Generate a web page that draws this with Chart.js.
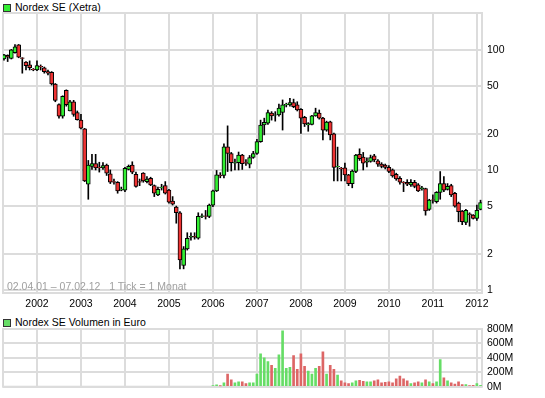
<!DOCTYPE html>
<html>
<head>
<meta charset="utf-8">
<script src="https://cdn.jsdelivr.net/npm/chart.js@4.4.1/dist/chart.umd.min.js"></script>
<style>
    body { margin: 0; background: #fff; }
    .wrap { position: relative; width: 545px; height: 398px; background: #fff; overflow: hidden; }
    .wrap canvas { position: absolute; left: 0; }
    .title { position: absolute; left: 3px; font: 10.5px "Liberation Sans", Arial, sans-serif; line-height: 13px; color: #000; white-space: nowrap; }
    .title span.box { display: inline-block; width: 6px; height: 6px; border: 1px solid #333; margin-right: 4px; vertical-align: -1px; }
    .note { position: absolute; left: 7px; top: 280px; font: 10.5px "Liberation Sans", Arial, sans-serif; line-height: 13px; color: #a0a0a0; white-space: nowrap; }
</style>
</head>
<body>
<div class="wrap">
    <div class="title" style="top:1px"><span class="box" style="background:#33ee33"></span>Nordex SE (Xetra)</div>
    <canvas id="price_chart" width="545" height="315" style="top:0"></canvas>
    <div class="note">02.04.01 &ndash; 07.02.12 &nbsp; 1 Tick = 1 Monat</div>
    <div class="title" style="top:316px"><span class="box" style="background:#66dd66"></span>Nordex SE Volumen in Euro</div>
    <canvas id="volume_chart" width="545" height="82" style="top:316px"></canvas>
</div>
<script>
// monthly candles, first one = April 2001, last one = February 2012
const opens = [84, 90, 85, 95, 110, 86, 79, 75, 69, 68, 73, 71, 66, 65, 52, 35, 28, 46, 31, 37, 30, 26, 22,
    7.6, 10.7, 11.3, 10.5, 10.4, 11, 9.3, 8, 7.9, 6.8, 6.8, 10.1, 11, 9.2, 8, 9.4, 8.0, 8.5, 7.4, 6.2, 7.1, 7.4,
    6.8, 5.5, 4.9, 4.4, 1.6, 2.2, 2.75, 2.8, 2.7, 4.1, 4.15, 4.1, 5.1, 6.7, 9.0, 9.0, 15.6, 13.7, 11.4, 11.5,
    13.3, 11.5, 11.2, 12.7, 13.7, 17.2, 23.7, 24.5, 29.7, 28.6, 28.7, 30.1, 34.8, 34.8, 36.5, 34.8, 32, 27.4,
    23.7, 24, 28.2, 29.7, 27, 21.5, 25.2, 20, 10.6, 10.3, 10.4, 9.1, 7.7, 9.7, 13.5, 12.8, 11.6, 11.8, 13.1,
    11.9, 11.2, 11, 10.5, 10, 9.2, 8.5, 7.9, 7.9, 7.5, 7.9, 7.5, 7.0, 7.0, 4.7, 5.65, 5.45, 6.5, 7.7, 6.9, 7.4,
    6.4, 5.3, 4.55, 3.65, 4.3, 4.2, 3.95, 4.7];
const highs = [92, 91, 101, 111, 111, 86.2, 80, 81, 70, 81, 75, 72, 68, 66, 52.5, 35.5, 41.5, 46.5, 38, 38, 31, 29, 22.2,
    12, 13.5, 13.5, 11.6, 11.5, 11.2, 10, 8.4, 8, 7.2, 10.5, 11, 11.7, 9.6, 8.4, 9.5, 8.8, 8.7, 7.5, 7.2, 7.6, 8.0,
    6.9, 6.0, 5.0, 4.5, 2.3, 3.0, 3.0, 3.0, 4.4, 4.3, 4.6, 5.2, 6.8, 9.9, 9.5, 16.5, 23.3, 14, 12.3, 14.1,
    13.5, 12.2, 13.2, 14.3, 18, 26, 27, 31.6, 30.6, 30.6, 35.3, 38.3, 36, 39.6, 38.9, 37, 32.5, 28,
    24.8, 28.5, 32.7, 31.6, 27.5, 25.5, 25.5, 20.3, 15.5, 10.5, 11.4, 9.2, 10, 13.5, 15, 14, 12.6, 13.3, 13.5,
    12.2, 11.5, 11.2, 10.9, 10.2, 9.4, 8.8, 8.0, 8.3, 8.3, 8.2, 7.7, 7.3, 7.05, 5.7, 6.2, 6.6, 9.7, 8.8, 7.7, 7.6,
    6.5, 5.4, 4.6, 4.7, 4.4, 4.25, 5.1, 5.6];
const lows = [82, 80, 84, 94, 86, 64, 68, 68, 67, 67, 68, 64, 62, 51, 37, 27, 27, 34, 31, 28, 26, 22, 8,
    5.7, 10.1, 10, 9.6, 10.1, 9, 7.7, 7.6, 6.4, 6.7, 6.6, 10, 9.3, 7.2, 7.4, 7.9, 7.8, 7.4, 6.0, 6.1, 6.8, 6.3,
    5.3, 5.1, 3.6, 1.5, 1.5, 2.15, 2.6, 2.65, 2.65, 4.0, 3.9, 4.0, 4.95, 6.6, 8.6, 8.6, 9.7, 9.8, 10, 10,
    10.1, 10.9, 10.4, 12.5, 13.5, 17, 19.6, 24, 26, 25.5, 28, 21.5, 33.5, 34, 33, 31, 20.2, 23,
    21, 23.7, 28, 26.5, 17.8, 21, 17.8, 8.1, 8.1, 8.1, 8.1, 7.4, 7.1, 9.5, 12, 10, 10.6, 11.6, 11.7,
    10.7, 10.4, 10.2, 9.5, 8.7, 8.2, 7.6, 6.6, 7.4, 7.3, 7.1, 6.6, 6.8, 4.2, 4.6, 5.3, 5.3, 5.7, 6.6, 6.8, 6.0,
    4.9, 3.7, 3.5, 3.5, 3.4, 3.9, 3.8, 4.65];
const closes = [91, 87, 100, 106, 87, 85, 74, 71, 68, 74, 72, 66, 64, 52, 38, 28, 41, 35, 37, 29, 26.2, 22.3, 8.1,
    11, 11.3, 10.4, 10.4, 10.9, 9.4, 7.9, 7.9, 6.7, 6.9, 10.3, 10.7, 9.6, 7.3, 7.9, 8.1, 8.4, 7.5, 6.4, 6.9, 7.2, 6.4,
    5.4, 5.2, 4.4, 1.78, 2.2, 2.7, 2.8, 2.75, 4.1, 4.15, 4.1, 5.1, 6.7, 9.1, 8.9, 15.6, 13.7, 11.5, 11.5, 13.3,
    11.3, 11.4, 12.7, 13.7, 17.2, 23.7, 24.9, 30, 28.2, 28.8, 32.7, 34.8, 35.2, 36.5, 33.7, 31.6, 27, 24.2,
    24.3, 28.2, 30.1, 27, 21.5, 25, 19.6, 10.5, 10.7, 10.2, 9.1, 7.7, 9.8, 13.3, 12.4, 11.4, 11.8, 12.7, 12.1,
    11.2, 10.7, 10.5, 9.7, 8.9, 8.4, 7.9, 7.8, 7.6, 7.9, 7.3, 6.7, 7.1, 4.55, 5.6, 5.6, 6.5, 7.7, 6.8, 7.3, 6.2,
    5.0, 4.5, 3.7, 4.6, 4.25, 3.95, 4.6, 5.35];

// volume in million euro, only shown from January 2006 (month 57) on
const volumeStart = 57;
const volumes = [15, 25, 12, 55, 175, 95, 55, 68, 68, 42, 55, 55, 175, 455, 400, 350, 295, 255, 442, 775,
    255, 268, 430, 242, 455, 282, 215, 175, 255, 282, 482, 175, 295, 242, 162, 82, 53, 42, 55, 82,
    88, 75, 68, 68, 82, 95, 55, 62, 68, 55, 108, 148, 108, 82, 42, 55, 68, 55, 95, 68,
    42, 68, 375, 122, 82, 55, 38, 68, 29, 29, 15, 18, 44, 18];

// tick labels
const yearLabels = ['2002', '2003', '2004', '2005', '2006', '2007', '2008', '2009', '2010', '2011', '2012'];
const priceTicks = [1, 2, 5, 10, 20, 50, 100];
const volumeTicks = [0, 200, 400, 600, 800];

const upColor = '#33ee33';
const downColor = '#ee3333';
const volUpColor = '#66dd66';
const volDownColor = '#dd6666';
const gridColor = '#dcdcdc';
const font = { family: '"Liberation Sans", Arial, sans-serif', size: 10.5 };

// month index of each January (index 0 = April 2001)
const yearTicks = yearLabels.map(y => (Number(y) - 2001) * 12 - 3);

const isUp = opens.map((o, i) => closes[i] >= o);

//frame around the plot area, same colour as the grid
const framePlugin = {
    id: 'frame',
    beforeDatasetsDraw(chart) {
        const { ctx, chartArea } = chart;
        ctx.save();
        ctx.strokeStyle = gridColor;
        ctx.lineWidth = 2;
        ctx.strokeRect(chartArea.left, chartArea.top, chartArea.right - chartArea.left, chartArea.bottom - chartArea.top);
        ctx.restore();
    }
};

const xScale = (showLabels, height) => ({
    type: 'linear',
    min: -0.27,
    max: 130.4,
    offset: false,
    afterBuildTicks: (scale) => {
        scale.ticks = yearTicks.map(v => ({ value: v }));
    },
    afterFit: (scale) => {
        scale.height = height;
    },
    ticks: {
        display: showLabels,
        autoSkip: false,
        maxRotation: 0,
        padding: 5,
        color: '#000',
        font: font,
        callback: (value, index) => yearLabels[index]
    },
    grid: { color: gridColor, lineWidth: 2, drawTicks: false, offset: false },
    border: { display: false }
});

//price chart with candles
const priceChartFunc = () => {
    const ctx = document.getElementById('price_chart').getContext('2d');

    new Chart(ctx, {
        type: 'bar',
        data: {
            datasets: [{
                // bodies on top
                data: opens.map((o, i) => ({ x: i, y: [Math.min(o, closes[i]), Math.max(o, closes[i])] })),
                backgroundColor: isUp.map(u => u ? upColor : downColor),
                borderColor: '#000',
                borderWidth: 1,
                borderSkipped: false,
                barThickness: 4,
                grouped: false,
                order: 0
            }, {
                // wicks
                data: highs.map((h, i) => ({ x: i, y: [lows[i], h] })),
                backgroundColor: '#000',
                borderWidth: 0,
                barThickness: 1,
                grouped: false,
                order: 1
            }]
        },
        options: {
            responsive: false,
            animation: false,
            layout: { padding: { left: 3, top: 13, right: 0, bottom: 0 } },
            plugins: { legend: { display: false }, tooltip: { enabled: false } },
            scales: {
                x: xScale(true, 22),
                y: {
                    type: 'logarithmic',
                    position: 'right',
                    min: 0.944,
                    max: 203,
                    beginAtZero: false,
                    afterBuildTicks: (scale) => {
                        scale.ticks = priceTicks.map(v => ({ value: v }));
                    },
                    afterFit: (scale) => {
                        scale.width = 63;
                    },
                    ticks: {
                        padding: 5,
                        color: '#000',
                        font: font,
                        callback: (value) => String(value)
                    },
                    grid: { color: gridColor, lineWidth: 2, drawTicks: false },
                    border: { display: false }
                }
            }
        },
        plugins: [framePlugin]
    });
};

priceChartFunc();
//

//volume chart
const volumeChartFunc = () => {
    const ctx = document.getElementById('volume_chart').getContext('2d');
    const points = volumes.map((v, k) => ({ x: volumeStart + k, y: v * 1e6 }));

    new Chart(ctx, {
        type: 'bar',
        data: {
            datasets: [{
                data: points,
                backgroundColor: points.map(p => isUp[p.x] ? volUpColor : volDownColor),
                borderWidth: 0,
                barThickness: 2
            }]
        },
        options: {
            responsive: false,
            animation: false,
            layout: { padding: { left: 3, top: 13, right: 0, bottom: 0 } },
            plugins: { legend: { display: false }, tooltip: { enabled: false } },
            scales: {
                x: xScale(false, 9),
                y: {
                    position: 'right',
                    min: 0,
                    max: 800e6,
                    afterBuildTicks: (scale) => {
                        scale.ticks = volumeTicks.map(v => ({ value: v * 1e6 }));
                    },
                    afterFit: (scale) => {
                        scale.width = 63;
                    },
                    ticks: {
                        padding: 5,
                        color: '#000',
                        font: font,
                        callback: (value) => (value / 1e6) + 'M'
                    },
                    grid: { color: gridColor, lineWidth: 2, drawTicks: false },
                    border: { display: false }
                }
            }
        },
        plugins: [framePlugin]
    });
};

volumeChartFunc();
//
</script>
</body>
</html>
